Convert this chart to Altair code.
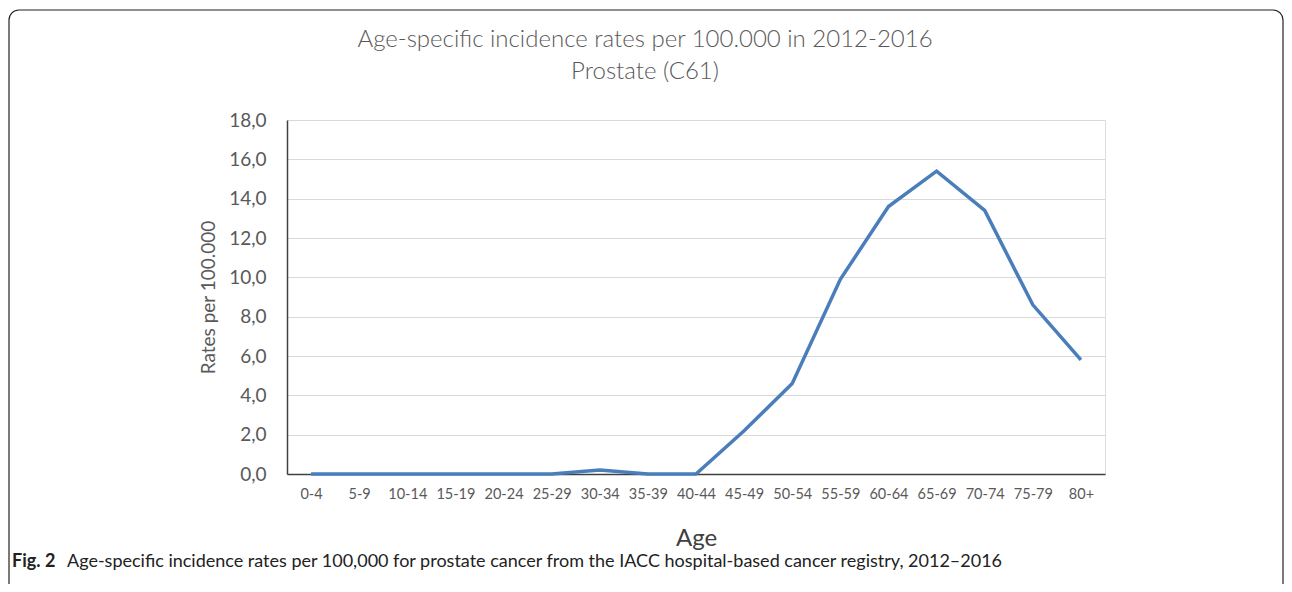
import altair as alt
import pandas as pd

ages = ["0-4", "5-9", "10-14", "15-19", "20-24", "25-29", "30-34", "35-39", "40-44",
        "45-49", "50-54", "55-59", "60-64", "65-69", "70-74", "75-79", "80+"]
rates = [0.0, 0.0, 0.0, 0.0, 0.0, 0.0, 0.2, 0.0, 0.0,
         2.2, 4.6, 9.9, 13.6, 15.4, 13.4, 8.6, 5.8]

title_lines = ["Age-specific incidence rates per 100.000 in 2012-2016", "Prostate (C61)"]
caption_bold = "Fig. 2"
caption_text = ("Age-specific incidence rates per 100,000 for prostate cancer from the IACC "
                "hospital-based cancer registry, 2012\u20132016")

df = pd.DataFrame({"age": ages, "rate": rates})

FONT = "Lato"
GREY = "#595959"

line = alt.Chart(df).mark_line(color="#4a7ebb", strokeWidth=3.5, clip=False).encode(
    x=alt.X("age:N", sort=ages,
            scale=alt.Scale(type="point", padding=0.5),
            axis=alt.Axis(title="Age", labelAngle=0, labelFontSize=14.5, labelColor=GREY,
                          labelFont=FONT, labelPadding=13, ticks=False,
                          domainColor="#404040", domainWidth=1.5,
                          titleFont=FONT, titleFontSize=24, titleFontWeight="normal",
                          titleColor="#404040", titlePadding=26, grid=False)),
    y=alt.Y("rate:Q",
            scale=alt.Scale(domain=[0, 18], nice=False),
            axis=alt.Axis(title="Rates per 100.000", values=list(range(0, 19, 2)),
                          labelExpr="replace(format(datum.value, '.1f'), '.', ',')",
                          labelFontSize=19, labelColor=GREY, labelFont=FONT,
                          labelPadding=21, ticks=False,
                          domainColor="#404040", domainWidth=1.5,
                          gridColor="#d9d9d9", gridWidth=1.2,
                          titleFont=FONT, titleFontSize=19, titleFontWeight="normal",
                          titleColor=GREY, titlePadding=10)),
)

one = alt.Data(values=[{"k": 1}])

border = alt.Chart(one).mark_rect(fill=None, stroke="#222222", strokeWidth=1.2,
                                  cornerRadius=10, clip=False).encode(
    x=alt.value(-278), x2=alt.value(996), y=alt.value(-110), y2=alt.value(490))

t1 = alt.Chart(one).mark_text(text=title_lines[0], font=FONT, fontSize=24,
                              fontWeight=300, align="center", baseline="middle",
                              color=GREY, clip=False).encode(
    x=alt.value(358), y=alt.value(-80))
t2 = alt.Chart(one).mark_text(text=title_lines[1], font=FONT, fontSize=24,
                              fontWeight=300, align="center", baseline="middle",
                              color=GREY, clip=False).encode(
    x=alt.value(358), y=alt.value(-48))

cap1 = alt.Chart(one).mark_text(text=caption_bold, font=FONT, fontSize=18,
                                fontWeight="bold", align="left", baseline="middle",
                                color="#222222", clip=False).encode(
    x=alt.value(-275), y=alt.value(442))
cap2 = alt.Chart(one).mark_text(text=caption_text, font=FONT, fontSize=18,
                                align="left", baseline="middle",
                                color="#222222", clip=False).encode(
    x=alt.value(-220), y=alt.value(442))

chart = alt.layer(border, line, t1, t2, cap1, cap2).properties(
    width=818, height=354,
    autosize=alt.AutoSizeParams(type="none"),
    padding={"left": 279, "top": 112, "right": 179, "bottom": 110},
).configure_view(stroke=None).configure(background="white")

chart.save("out.html", embed_options={"renderer": "svg", "actions": False})
